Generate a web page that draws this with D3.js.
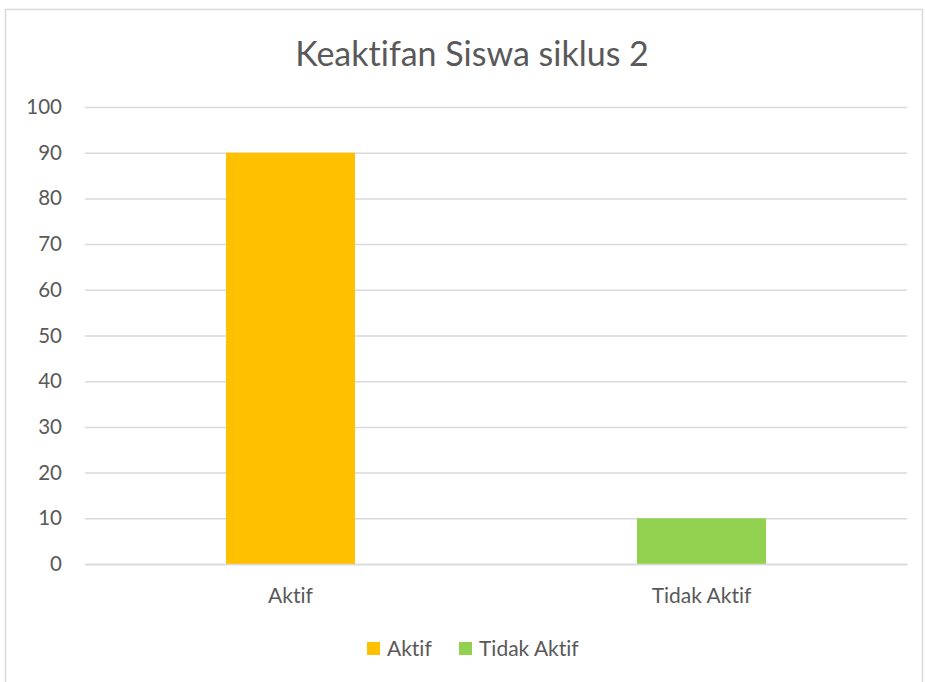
<!DOCTYPE html>
<html>
<head>
<meta charset="utf-8">
<script src="https://cdn.jsdelivr.net/npm/d3@7"></script>
<style>
  body { margin: 0; background: #fff; }
  text { font-family: Lato, "Open Sans", sans-serif; fill: #595959; font-variant-ligatures: none; }
</style>
</head>
<body>
<div class="chart-wrapper"></div>
<script>
let chartTitle = "Keaktifan Siswa siklus 2";
let categories = ["Aktif", "Tidak Aktif"];
let values = [90, 10];
let barColors = ["#ffc000", "#92d050"];
let yTicks = [0, 10, 20, 30, 40, 50, 60, 70, 80, 90, 100];

let w = 925;
let h = 682;
let plotLeft = 85;
let plotRight = 907;
let plotTop = 107;
let plotBottom = 564;

let viz = d3.select(".chart-wrapper")
          .append("svg")
          .attr("width", w)
          .attr("height", h)
;

// outer chart border
viz.append("rect")
    .attr("x", 5.5)
    .attr("y", 9.5)
    .attr("width", 917)
    .attr("height", h)
    .attr("fill", "none")
    .attr("stroke", "#d9d9d9")
    .attr("stroke-width", 1.5)
;

viz.append("text")
    .attr("x", 472)
    .attr("y", 66)
    .attr("text-anchor", "middle")
    .style("font-size", "34px")
    .text(chartTitle)
;

let yScale = d3.scaleLinear().domain([0, 100]).range([plotBottom, plotTop]);
let xScale = d3.scaleBand().domain(categories).range([plotLeft, plotRight])
                .paddingInner(0.686).paddingOuter(0.343);

// grid
let yAxis = d3.axisLeft(yScale).tickValues(yTicks).tickSize(-(plotRight - plotLeft)).tickPadding(23);
let yAxisGroup = viz.append("g")
                    .attr("class", "yaxisgroup")
                    .attr("transform", "translate(" + plotLeft + ",0)")
;
yAxisGroup.call(yAxis);
yAxisGroup.select(".domain").remove();
yAxisGroup.selectAll("line").attr("stroke", "#d9d9d9").attr("stroke-width", 1.5);
yAxisGroup.selectAll("text").style("font-size", "20.5px").attr("fill", "#595959");

// bars
viz.selectAll(".bar").data(values).enter()
    .append("rect")
    .attr("class", "bar")
    .attr("x", (d, i) => xScale(categories[i]))
    .attr("y", d => yScale(d))
    .attr("width", xScale.bandwidth())
    .attr("height", d => plotBottom - yScale(d))
    .attr("fill", (d, i) => barColors[i])
;

// category labels
let xAxis = d3.axisBottom(xScale).tickSize(0).tickPadding(24);
let xAxisGroup = viz.append("g")
                    .attr("class", "xaxisgroup")
                    .attr("transform", "translate(0," + plotBottom + ")")
;
xAxisGroup.call(xAxis);
xAxisGroup.select(".domain").attr("stroke", "#d9d9d9").attr("stroke-width", 1.5);
xAxisGroup.selectAll("text").style("font-size", "21px").attr("fill", "#595959");

// legend
let legendX = [367, 459];
let legend = viz.selectAll(".legend").data(categories).enter()
                .append("g")
                .attr("class", "legend")
                .attr("transform", (d, i) => "translate(" + legendX[i] + ",642)")
;
legend.append("rect")
        .attr("width", 13)
        .attr("height", 13)
        .attr("fill", (d, i) => barColors[i])
;
legend.append("text")
        .attr("x", 20)
        .attr("y", 14)
        .style("font-size", "21px")
        .text(d => d)
;
</script>
</body>
</html>
